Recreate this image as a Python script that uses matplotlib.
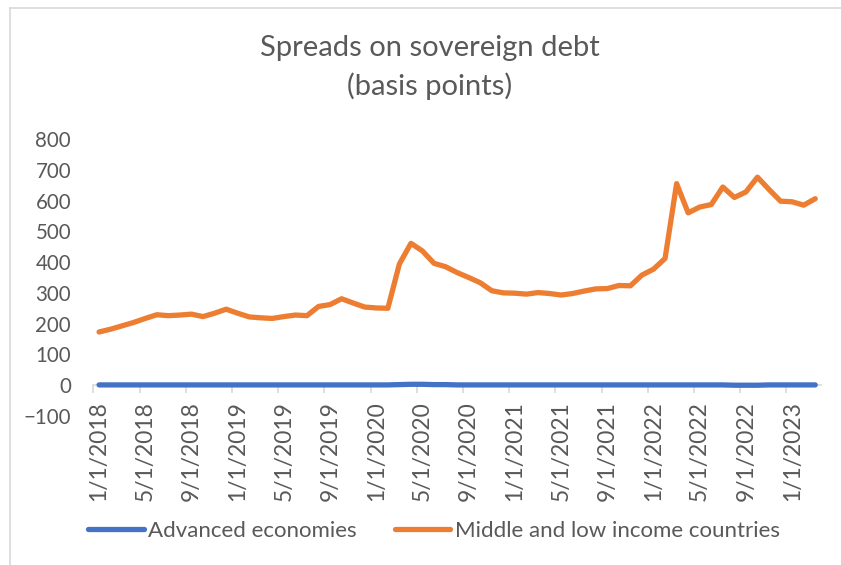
import matplotlib
matplotlib.use("Agg")
import matplotlib.pyplot as plt
from matplotlib.lines import Line2D
import matplotlib.transforms as mtransforms

# Monthly observations, Jan 2018 - Mar 2023
months = [f"{m}/1/{y}" for y in range(2018, 2024) for m in range(1, 13)][:63]

advanced = [1, 1, 1, 1, 1, 1, 1, 1, 1, 1, 1, 1,
            1, 1, 1, 1, 1, 1, 1, 1, 1, 1, 1, 1,
            1, 1, 2, 3, 3, 2, 2, 1, 1, 1, 1, 1,
            1, 1, 1, 1, 1, 1, 1, 1, 1, 1, 1, 1,
            1, 1, 1, 1, 1, 1, 1, 0, 0, 0, 1, 1,
            1, 1, 1]

middle_low = [173, 182, 193, 204, 217, 229, 226, 228, 231, 223, 234, 247,
              234, 222, 219, 217, 223, 228, 226, 256, 262, 281, 267, 254,
              251, 250, 394, 461, 436, 396, 385, 366, 350, 333, 307, 300,
              299, 296, 301, 298, 293, 298, 306, 313, 314, 324, 323, 358,
              377, 412, 655, 560, 579, 587, 644, 610, 628, 676, 636, 598,
              596, 585, 606]

tick_labels = months[::4]
y_ticks = [-100, 0, 100, 200, 300, 400, 500, 600, 700, 800]

BLUE = "#4472C4"
ORANGE = "#ED7D31"
TEXT = "#595959"
GRID = "#D9D9D9"

plt.rcParams["font.family"] = ["Lato", "DejaVu Sans"]

W, H = 841, 565
fig = plt.figure(figsize=(W / 100, H / 100), dpi=100)

def fx(px):
    return px / W

def fy(py):
    return 1 - py / H

# chart outline (only the top and left edges fall inside the frame)
fig.add_artist(Line2D([fx(10), 1], [fy(7.5), fy(7.5)], color=GRID, lw=1.2))
fig.add_artist(Line2D([fx(10), fx(10)], [fy(7.5), 0], color=GRID, lw=1.2))

ax = fig.add_axes([fx(93.3), fy(416), fx(821) - fx(93.3), fy(139) - fy(416)])

x = list(range(len(months)))
ax.plot(x, advanced, color=BLUE, lw=3.8, solid_capstyle="round",
        solid_joinstyle="round", label="Advanced economies", zorder=3)
ax.plot(x, middle_low, color=ORANGE, lw=3.8, solid_capstyle="round",
        solid_joinstyle="round", label="Middle and low income countries", zorder=3)

ax.set_xlim(-0.5, len(months) - 0.5)
ax.set_ylim(-100, 800)
ax.set_yticks(y_ticks)
ax.tick_params(axis="y", length=0, pad=16, labelsize=14.8, labelcolor=TEXT)

for side in ("top", "right", "left"):
    ax.spines[side].set_visible(False)
ax.spines["bottom"].set_position(("data", 0))
ax.spines["bottom"].set_color(GRID)
ax.spines["bottom"].set_linewidth(1.2)
ax.spines["bottom"].set_zorder(1)

ax.set_xticks([b - 0.5 for b in range(0, len(months), 4)])
ax.set_xticklabels([])
ax.tick_params(axis="x", length=5.5, width=1.2, color=GRID, direction="out")

# category labels sit below the zero line, centred on their month
trans = mtransforms.blended_transform_factory(ax.transData, fig.transFigure)
for i, lab in enumerate(tick_labels):
    ax.text(i * 4, fy(401), lab, transform=trans, rotation=90,
            ha="center", va="top", fontsize=16.4, color=TEXT)

fig.text(fx(430), fy(48), "Spreads on sovereign debt", ha="center", va="center",
         fontsize=21, color=TEXT)
fig.text(fx(430), fy(86), "(basis points)", ha="center", va="center",
         fontsize=21, color=TEXT)

leg = fig.legend(loc="center", bbox_to_anchor=(fx(434), fy(531)), ncol=2,
                 frameon=False, fontsize=16, handlelength=2.5,
                 handletextpad=0.2, columnspacing=1.7)
for t in leg.get_texts():
    t.set_color(TEXT)

fig.savefig("out.png", dpi=100)
